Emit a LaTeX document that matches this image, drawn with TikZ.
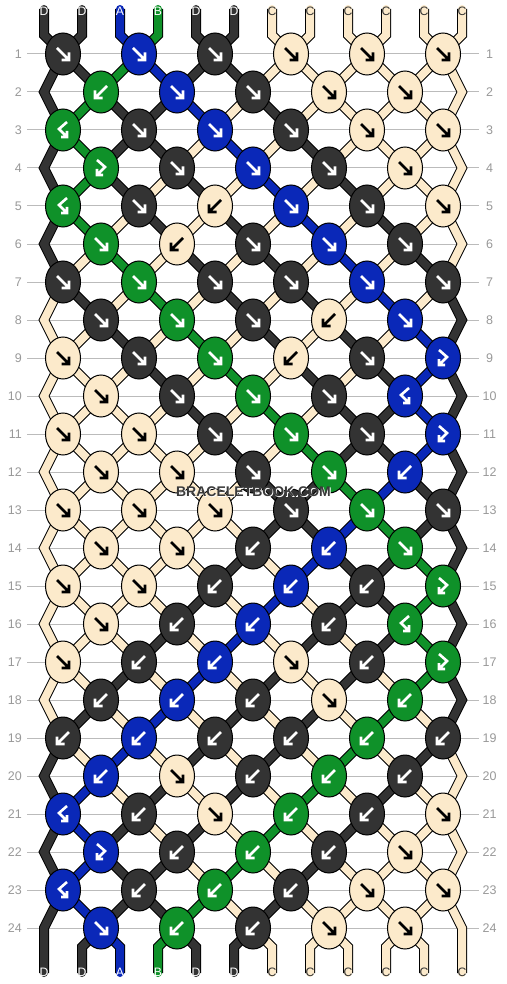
\documentclass[tikz,border=0pt]{standalone}
\usepackage{fontspec}
\setmainfont{Liberation Sans}
\usetikzlibrary{shapes.geometric}
\definecolor{colD}{HTML}{333333}
\definecolor{colA}{HTML}{0A28B8}
\definecolor{colB}{HTML}{0F9129}
\definecolor{colC}{HTML}{FCEACB}
\colorlet{arrD}{white}\colorlet{arrA}{white}\colorlet{arrB}{white}\colorlet{arrC}{black}
\colorlet{lblD}{white}\colorlet{lblA}{white}\colorlet{lblB}{white}\definecolor{lblC}{HTML}{333333}
\definecolor{rowgray}{HTML}{BBBBBB}
\definecolor{numgray}{HTML}{999999}
\definecolor{wmgray}{HTML}{3A3A3A}
\tikzset{
  strand/.style={line width=8pt, draw=#1, line join=miter, preaction={draw=black, line width=10pt}},
  knot/.style={ellipse, draw=black, line width=1pt, minimum width=35pt, minimum height=42pt, inner sep=0pt},
  rowline/.style={draw=rowgray, line width=1pt},
  rownum/.style={font=\fontsize{12.5}{14}\selectfont, text=numgray, inner sep=0pt},
  strlabel/.style={font=\fontsize{12.2}{13}\selectfont, inner sep=0pt},
  arrstroke/.style={line width=2.6pt, line join=miter, line cap=butt},
  arrF/.pic={\draw[arrstroke] (-6,-6) -- (5,5) (-1.5,6) -- (6,6) -- (6,-1.5);},
  arrB/.pic={\draw[arrstroke] (6,-6) -- (-5,5) (1.5,6) -- (-6,6) -- (-6,-1.5);},
  arrBF/.pic={\draw[arrstroke] (4,-8) -- (-4,-1) -- (3,6) (-2,7) -- (4,7) -- (4,1);},
  arrFB/.pic={\draw[arrstroke] (-4,-8) -- (4,-1) -- (-3,6) (2,7) -- (-4,7) -- (-4,1);}
}
\begin{document}
\begin{tikzpicture}[x=1pt,y=-1pt]
\useasboundingbox[fill=white] (0,0) rectangle (506,984);
% row guide lines and numbers
\foreach \rw in {1,...,24} {
  \pgfmathsetmacro\yy{54+38*(\rw-1)}
  \coordinate (ll-\rw) at (27,\yy);
  \coordinate (lr-\rw) at (479,\yy);
  \draw[rowline] (ll-\rw) -- (lr-\rw);
  \node[rownum, anchor=east] (nl-\rw) at (22,\yy) {\rw};
  \node[rownum] (nr-\rw) at (489.5,\yy) {\rw};
}
% string positions in every row
\foreach \rw in {1,...,24} {
  \foreach \pos in {1,...,12} {
    \pgfmathsetmacro\xx{ifthenelse(mod(\rw,2)==1, 63+76*(int((\pos+1)/2)-1), ifthenelse(\pos==1, 44, ifthenelse(\pos==12, 462, 101+76*(int(\pos/2)-1))))}
    \coordinate (c-\rw-\pos) at (\xx, {54+38*(\rw-1)});
  }
}
\foreach \pos in {1,...,12} {
  \pgfmathsetmacro\xx{44+38*(\pos-1)}
  \coordinate (t-\pos) at (\xx,9);
  \coordinate (tb-\pos) at (\xx,35);
  \coordinate (bb-\pos) at (\xx,947);
  \coordinate (b-\pos) at (\xx,973);
}
% top strands
\foreach \cl [count=\pos] in {D,D,A,B,D,D,C,C,C,C,C,C} {
  \draw[strand=col\cl, line cap=round] (t-\pos) -- (tb-\pos) -- (c-1-\pos);
}
% strands between rows
\foreach \row [count=\rw] in {
 {D,D,B,A,D,D,C,C,C,C,C,C},
 {D,B,D,D,A,C,D,C,C,C,C,C},
 {D,B,D,D,C,A,C,D,C,C,C,C},
 {D,B,D,C,D,C,A,C,D,C,C,C},
 {D,B,C,D,C,D,C,A,C,D,C,C},
 {D,C,B,C,D,C,D,C,A,C,D,C},
 {C,D,C,B,C,D,C,D,C,A,C,D},
 {C,C,D,C,B,C,D,C,D,C,A,D},
 {C,C,C,D,C,B,C,D,C,D,A,D},
 {C,C,C,C,D,C,B,C,D,D,A,D},
 {C,C,C,C,C,D,C,B,D,D,A,D},
 {C,C,C,C,C,C,D,D,B,A,D,D},
 {C,C,C,C,C,C,D,D,A,B,D,D},
 {C,C,C,C,C,D,C,A,D,D,B,D},
 {C,C,C,C,D,C,A,C,D,D,B,D},
 {C,C,C,D,C,A,C,D,C,D,B,D},
 {C,C,D,C,A,C,D,C,D,C,B,D},
 {C,D,C,A,C,D,C,D,C,B,C,D},
 {D,C,A,C,D,C,D,C,B,C,D,C},
 {D,A,C,D,C,D,C,B,C,D,C,C},
 {D,A,D,C,D,C,B,C,D,C,C,C},
 {D,A,D,D,C,B,C,D,C,C,C,C},
 {D,A,D,D,B,C,D,C,C,C,C,C}} {
  \pgfmathtruncatemacro\rn{\rw+1}
  \pgfmathtruncatemacro\rnn{\rw+2}
  \foreach \cl [count=\pos] in \row {
    \pgfmathtruncatemacro\isedge{(\pos==1)||(\pos==12)}
    \ifnum\isedge=0
      \draw[strand=col\cl] (c-\rw-\pos) -- (c-\rn-\pos);
    \else
      \ifodd\rw
        \ifnum\rw<23
          \draw[strand=col\cl] (c-\rw-\pos) -- (c-\rn-\pos) -- (c-\rnn-\pos);
        \else
          \draw[strand=col\cl, line cap=round] (c-\rw-\pos) -- (c-\rn-\pos) -- (b-\pos);
        \fi
      \fi
    \fi
  }
}
% bottom strands
\foreach \cl [count=\pos] in {D,D,A,B,D,D,C,C,C,C,C,C} {
  \ifnum\pos>1 \ifnum\pos<12
    \draw[strand=col\cl, line cap=round] (c-24-\pos) -- (bb-\pos) -- (b-\pos);
  \fi\fi
}
% labels
\foreach \cl [count=\pos] in {D,D,A,B,D,D,C,C,C,C,C,C} {
  \node[strlabel, text=lbl\cl, yshift=-2.7pt] (lt-\pos) at (t-\pos) {\cl};
  \node[strlabel, text=lbl\cl, yshift=0.8pt] (lb-\pos) at (b-\pos) {\cl};
}
% knots
\foreach \row [count=\rw] in {
 {D/F,A/F,D/F,C/F,C/F,C/F},
 {B/B,A/F,D/F,C/F,C/F},
 {B/BF,D/F,A/F,D/F,C/F,C/F},
 {B/FB,D/F,A/F,D/F,C/F},
 {B/BF,D/F,C/B,A/F,D/F,C/F},
 {B/F,C/B,D/F,A/F,D/F},
 {D/F,B/F,D/F,D/F,A/F,D/F},
 {D/F,B/F,D/F,C/B,A/F},
 {C/F,D/F,B/F,C/B,D/F,A/FB},
 {C/F,D/F,B/F,D/F,A/BF},
 {C/F,C/F,D/F,B/F,D/F,A/FB},
 {C/F,C/F,D/F,B/F,A/B},
 {C/F,C/F,C/F,D/F,B/F,D/F},
 {C/F,C/F,D/B,A/B,B/F},
 {C/F,C/F,D/B,A/B,D/B,B/FB},
 {C/F,D/B,A/B,D/B,B/BF},
 {C/F,D/B,A/B,C/F,D/B,B/FB},
 {D/B,A/B,D/B,C/F,B/B},
 {D/B,A/B,D/B,D/B,B/B,D/B},
 {A/B,C/F,D/B,B/B,D/B},
 {A/BF,D/B,C/F,B/B,D/B,C/F},
 {A/FB,D/B,B/B,D/B,C/F},
 {A/BF,D/B,B/B,D/B,C/F,C/F},
 {A/F,B/B,D/B,C/F,C/F}} {
  \foreach \cl/\ty [count=\kk] in \row {
    \pgfmathtruncatemacro\pp{ifthenelse(mod(\rw,2)==1, 2*\kk-1, 2*\kk)}
    \node[knot, fill=col\cl] (k-\rw-\kk) at (c-\rw-\pp) {};
    \pic[color=arr\cl] at (k-\rw-\kk) {arr\ty};
  }
}
% watermark
\node[font=\fontsize{14}{16}\selectfont\bfseries, text=white, inner sep=0pt] (wms) at (254.3,492.3) {BRACELETBOOK.COM};
\node[font=\fontsize{14}{16}\selectfont\bfseries, text=wmgray, inner sep=0pt] (wm) at (253.5,491.6) {BRACELETBOOK.COM};
\end{tikzpicture}
\end{document}
